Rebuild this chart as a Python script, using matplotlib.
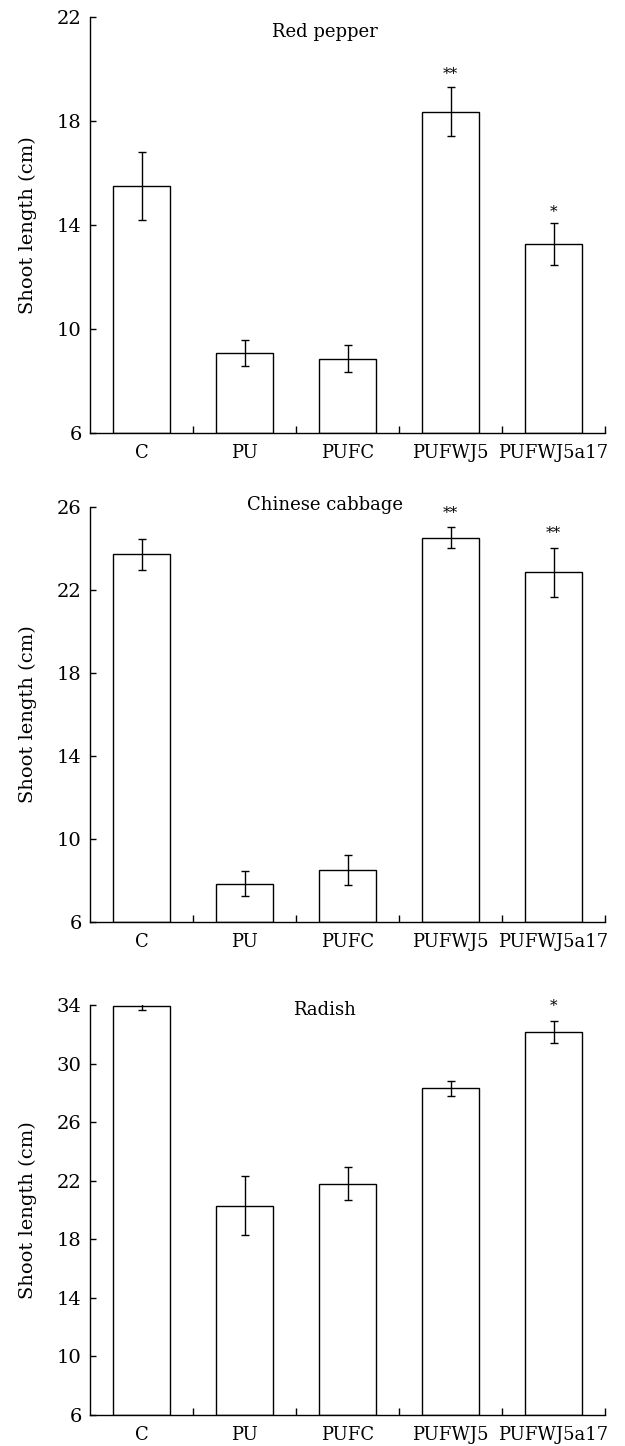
import matplotlib
matplotlib.use("Agg")
import matplotlib.pyplot as plt
import numpy as np

plt.rcParams['font.family'] = ['DejaVu Serif']

categories = ['C', 'PU', 'PUFC', 'PUFWJ5', 'PUFWJ5a17']

# Red pepper
pepper_mean = [15.5, 9.05, 8.85, 18.35, 13.25]
pepper_err = [1.3, 0.5, 0.52, 0.95, 0.8]
pepper_stars = ['', '', '', '**', '*']
pepper_star_y = [0, 0, 0, 19.8, 14.5]

# Chinese cabbage
cabbage_mean = [23.7, 7.85, 8.52, 24.5, 22.85]
cabbage_err = [0.75, 0.6, 0.72, 0.5, 1.18]
cabbage_stars = ['', '', '', '**', '**']
cabbage_star_y = [0, 0, 0, 25.68, 24.72]

# Radish
radish_mean = [33.9, 20.3, 21.8, 28.3, 32.15]
radish_err = [0.25, 2.0, 1.13, 0.5, 0.75]
radish_stars = ['', '', '', '', '*']
radish_star_y = [0, 0, 0, 0, 33.9]

panels = [
    ('Red pepper', pepper_mean, pepper_err, pepper_stars, pepper_star_y,
     [6, 10, 14, 18, 22], 21.4),
    ('Chinese cabbage', cabbage_mean, cabbage_err, cabbage_stars, cabbage_star_y,
     [6, 10, 14, 18, 22, 26], 26.1),
    ('Radish', radish_mean, radish_err, radish_stars, radish_star_y,
     [6, 10, 14, 18, 22, 26, 30, 34], 33.65),
]

# axes boxes in pixel rows (top, bottom) of the 1446 px tall figure
W, H = 625, 1446
rows = [(16.7, 432.7), (506.7, 922.3), (1005.0, 1415.0)]
left, right = 90.0, 605.0

fig = plt.figure(figsize=(W / 100, H / 100), dpi=100)

x = np.arange(len(categories))
for (title, mean, err, stars, star_y, yticks, title_y), (top, bot) in zip(panels, rows):
    ax = fig.add_axes([left / W, 1 - bot / H, (right - left) / W, (bot - top) / H])
    ax.bar(x, np.array(mean) - yticks[0], bottom=yticks[0], width=0.56,
           color='white', edgecolor='black', linewidth=1.0)
    ax.errorbar(x, mean, yerr=err, fmt='none', ecolor='black',
                elinewidth=1.0, capsize=3, capthick=1.0)
    for xi, s, sy in zip(x, stars, star_y):
        if s:
            ax.text(xi, sy, s, ha='center', va='center', fontsize=11)
    ax.text(1.78, title_y, title, ha='center', va='center', fontsize=13,
            clip_on=False)

    ax.set_xlim(-0.5, 4.5)
    ax.set_ylim(yticks[0], yticks[-1])
    ax.set_yticks(yticks)
    ax.set_xticks(x)
    ax.set_xticklabels(categories, fontsize=13)
    ax.set_xticks(x + 0.5, minor=True)
    ax.tick_params(axis='x', which='major', length=0, pad=8)
    ax.tick_params(axis='x', which='minor', direction='in', length=5, width=1)
    ax.tick_params(axis='y', direction='in', length=4, width=1, labelsize=14, pad=6)
    ax.set_ylabel('Shoot length (cm)', fontsize=14, labelpad=14)

    for side in ('top', 'right'):
        ax.spines[side].set_visible(False)
    for side in ('left', 'bottom'):
        ax.spines[side].set_linewidth(1.0)

fig.savefig('out.png', dpi=100)
